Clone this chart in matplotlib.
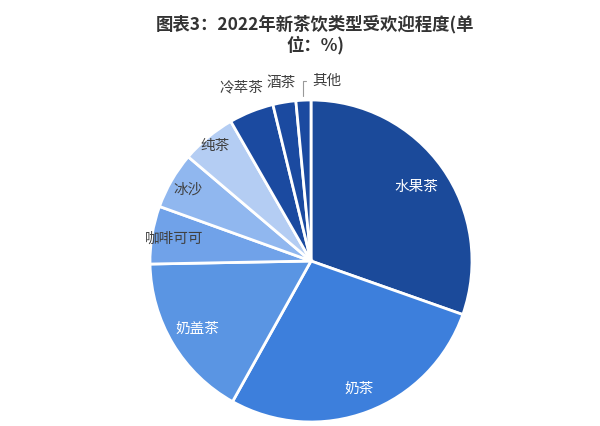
import numpy as np
import matplotlib.pyplot as plt

plt.rcParams['font.family'] = ['Noto Sans CJK SC', 'DejaVu Sans']

# Daten (Anteile in %)
labels = ['水果茶', '奶茶', '奶盖茶', '咖啡可可', '冰沙', '纯茶', '冷萃茶', '酒茶', '其他']
values = [30.4, 27.7, 16.6, 5.8, 5.7, 5.5, 4.5, 2.3, 1.5]
colors = ['#1B4A9A', '#3D7FDC', '#5A95E3', '#70A2E9', '#90B7EF', '#B4CDF3',
          '#1B4AA0', '#1B4AA0', '#1B4AA0']
# Label-Radius (Vielfaches des Radius) und Textfarbe
label_r = [0.80, 0.85, 0.82, 0.86, 0.88, 0.93, 1.16, 1.12, 1.12]
label_c = ['white', 'white', 'white', '#404040', '#404040', '#404040',
           '#404040', '#404040', '#404040']

fig = plt.figure(figsize=(6, 4.26), dpi=100)
ax = fig.add_axes([150 / 600, 4 / 426, 322 / 600, 322 / 426])

wedges, _ = ax.pie(values, colors=colors, startangle=90, counterclock=False,
                   wedgeprops=dict(edgecolor='white', linewidth=2))
ax.set_aspect('equal')
ax.set_xlim(-1, 1)
ax.set_ylim(-1, 1)

for i, w in enumerate(wedges):
    ang = np.deg2rad((w.theta1 + w.theta2) / 2)
    x = label_r[i] * np.cos(ang)
    y = label_r[i] * np.sin(ang)
    if labels[i] == '其他':
        # mit Fuehrungslinie
        ex, ey = np.cos(ang), np.sin(ang)
        ax.annotate(labels[i], xy=(ex, ey), xytext=(x + 0.15, y),
                    ha='center', va='center', fontsize=10.5, color=label_c[i],
                    arrowprops=dict(arrowstyle='-', color='#999999', lw=0.8,
                                    connectionstyle='angle,angleA=0,angleB=90,rad=0',
                                    shrinkA=2, shrinkB=3))
    else:
        ax.text(x, y, labels[i], ha='center', va='center', fontsize=10.5,
                color=label_c[i])

fig.text(0.525, 0.918, '图表3：2022年新茶饮类型受欢迎程度(单\n位：%)',
         ha='center', va='center', fontsize=12.5, fontweight='bold',
         color='#333333', linespacing=1.15)

fig.savefig('out.png', dpi=100)
